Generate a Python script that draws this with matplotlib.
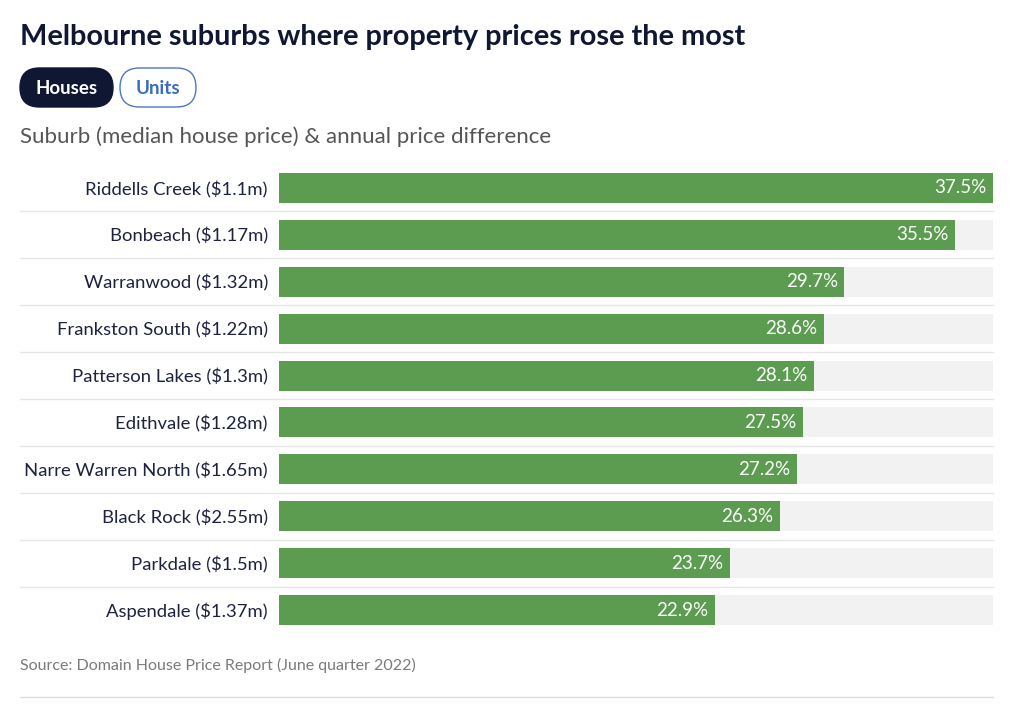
import matplotlib.pyplot as plt
from matplotlib.patches import FancyBboxPatch

plt.rcParams['font.family'] = ['Lato', 'DejaVu Sans']

suburbs = ["Riddells Creek ($1.1m)", "Bonbeach ($1.17m)", "Warranwood ($1.32m)",
           "Frankston South ($1.22m)", "Patterson Lakes ($1.3m)", "Edithvale ($1.28m)",
           "Narre Warren North ($1.65m)", "Black Rock ($2.55m)", "Parkdale ($1.5m)",
           "Aspendale ($1.37m)"]
growth = [37.5, 35.5, 29.7, 28.6, 28.1, 27.5, 27.2, 26.3, 23.7, 22.9]

W, H = 1024, 718
fig = plt.figure(figsize=(W / 100, H / 100), dpi=100)
fig.patch.set_facecolor("white")

navy = "#0f1733"
green = "#5c9c51"

# overlay in pixel coordinates for header / footer bits
bg = fig.add_axes([0, 0, 1, 1])
bg.set_xlim(0, W)
bg.set_ylim(H, 0)
bg.axis("off")

# axes placed in pixel terms
left, right = 279, 993
top, bottom = 164.5, 633.5
ax = fig.add_axes([left / W, 1 - bottom / H, (right - left) / W, (bottom - top) / H])

ypos = list(range(len(suburbs)))
xmax = max(growth)
ax.barh(ypos, [xmax] * len(ypos), height=0.64, color="#f2f2f2", zorder=1)
ax.barh(ypos, growth, height=0.64, color=green, zorder=2)
for y, v in zip(ypos, growth):
    ax.text(v - 0.35, y, f"{v}%", ha="right", va="center", color="white",
            fontsize=13.5, zorder=3)

# separators between rows
xm = (20 - left) / (right - left)
for i in range(len(suburbs) - 1):
    ax.axhline(i + 0.5, xmin=xm, xmax=1, color="#e6e6e6", lw=1, clip_on=False)

ax.set_xlim(0, xmax)
ax.set_ylim(len(suburbs) - 0.5, -0.5)
ax.set_yticks(ypos)
ax.set_yticklabels(suburbs, fontsize=13.3, color="#1c2240")
ax.tick_params(axis="y", length=0, pad=8)
ax.set_xticks([])
for s in ax.spines.values():
    s.set_visible(False)

# header
bg.text(20, 37, "Melbourne suburbs where property prices rose the most",
        fontsize=20.8, fontweight="bold", color=navy, va="center", ha="left")

bg.add_patch(FancyBboxPatch((20, 68), 93, 39, boxstyle="round,pad=0,rounding_size=19.5",
                            facecolor=navy, edgecolor=navy, lw=1))
bg.text(66.5, 88, "Houses", fontsize=13.5, fontweight="bold",
        color="white", ha="center", va="center")
bg.add_patch(FancyBboxPatch((120, 68), 76, 39, boxstyle="round,pad=0,rounding_size=19.5",
                            facecolor="white", edgecolor="#4a78c8", lw=1))
bg.text(158, 88, "Units", fontsize=13.5, fontweight="bold",
        color="#3b6cc2", ha="center", va="center")

bg.text(20, 137, "Suburb (median house price) & annual price difference",
        fontsize=16, color="#555555", ha="left", va="center")

bg.text(20, 665, "Source: Domain House Price Report (June quarter 2022)",
        fontsize=11.5, color="#7a7a7a", ha="left", va="center")
bg.plot([20, 993], [697, 697], color="#dddddd", lw=1)

fig.savefig("out.png", dpi=100)
